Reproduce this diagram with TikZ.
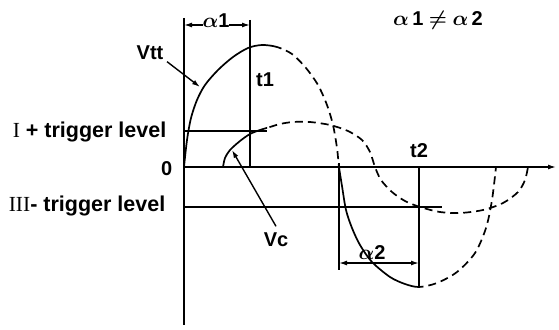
\documentclass[tikz,border=0pt]{standalone}
\usepackage{fontspec}
\setmainfont{Liberation Sans}
\newfontfamily\romfont{Liberation Serif}
\usetikzlibrary{arrows.meta}

\begin{document}
\begin{tikzpicture}[x=1pt,y=-1pt,line width=1.4pt,
  wave/.style={line width=1.7pt},
  wavedash/.style={line width=1.7pt, dash pattern=on 8pt off 5pt},
  lbl/.style={font=\fontsize{20}{24}\selectfont\bfseries\boldmath, inner sep=1pt},
  lvl/.style={font=\fontsize{21.5}{26}\selectfont\bfseries, inner sep=1pt, anchor=east},
  tip/.style={-{Latex[length=8pt,width=5pt]}},
  dim/.style={{Latex[length=8pt,width=5pt]}-{Latex[length=8pt,width=5pt]}}]
\useasboundingbox (0,0) rectangle (559,329);

\coordinate (o) at (184,167);
\coordinate (ytop) at (184,18);
\coordinate (ybot) at (184,325);
\coordinate (xend) at (556,167);
\draw (ytop) -- (ybot);
\draw[tip] (o) -- (xend);

\coordinate (ptrig) at (184,131);
\coordinate (ptrigend) at (267,131);
\coordinate (ntrig) at (184,207);
\coordinate (ntrigend) at (442,207);
\draw (ptrig) -- (ptrigend);
\draw (ntrig) -- (ntrigend);

\coordinate (t1top) at (250,20);
\coordinate (t1bot) at (250,167);
\coordinate (t2top) at (419,167);
\coordinate (t2bot) at (419,287);
\coordinate (a2top) at (339,163);
\coordinate (a2bot) at (339,270);
\draw (t1top) -- (t1bot);
\draw (t2top) -- (t2bot);
\draw (a2top) -- (a2bot);

\draw[dim] (184,25) -- (250,25);
\node[lbl, fill=white, inner sep=0pt] (a1) at (216,21) {$\alpha$1};
\draw[dim] (339,263) -- (419,263);
\node[lbl, fill=white, inner sep=0pt] (a2) at (372,253) {$\alpha$2};

\def\vttpts{(184,167) (187,140) (191,118) (197,100) (205,85) (218,70) (233,57) (248,48) (262,45) (277,47) (292,54) (306,68) (318,85) (327,105) (333,125) (337,148) (339,167) (342,186) (346,210) (352,228) (360,245) (372,262) (390,277) (405,284) (419,287) (437,283) (457,272) (475,253) (486,228) (492,200) (496,167)}
\def\vcpts{(223,167) (225,158) (230,150) (240,141) (250,134) (260,130) (270,127) (280,124) (293,122) (310,122) (330,125) (348,131) (362,140) (370,152) (375,167) (381,180) (392,192) (405,201) (420,207) (440,212) (460,213) (483,210) (503,203) (518,192) (525,180) (528,167)}

\begin{scope}
\clip (150,0) rectangle (275,329) (339.5,0) rectangle (419,329);
\draw[wave] plot[smooth] coordinates {\vttpts};
\end{scope}
\begin{scope}
\clip (275,0) rectangle (339.5,329) (419,0) rectangle (559,329);
\draw[wavedash] plot[smooth] coordinates {\vttpts};
\end{scope}
\begin{scope}
\clip (200,0) rectangle (267,329);
\draw[wave] plot[smooth] coordinates {\vcpts};
\end{scope}
\begin{scope}
\clip (267,0) rectangle (559,329);
\draw[wavedash] plot[smooth] coordinates {\vcpts};
\end{scope}

\coordinate (vttp) at (200,87);
\coordinate (vcp) at (232,150);
\node[lbl] (vtt) at (150,53) {Vtt};
\node[lbl] (vc) at (276,240) {Vc};
\draw[tip] ([xshift=2pt]vtt.south east) -- (vttp);
\draw[tip] ([yshift=5pt]vc.north) -- (vcp);

\node[lbl] (t1) at (265,80) {t1};
\node[lbl] (t2) at (419,151) {t2};
\node[lvl] (ptxt) at (168,132) {{\romfont\mdseries I} + trigger level};
\node[lbl, anchor=east] (zero) at (174,169) {0};
\node[lvl] (ntxt) at (167,206) {{\romfont\mdseries III}- trigger level};
\node[lbl] (neq) at (438,20) {$\alpha$\,1 $\neq$ $\alpha$\,2};
\end{tikzpicture}
\end{document}
